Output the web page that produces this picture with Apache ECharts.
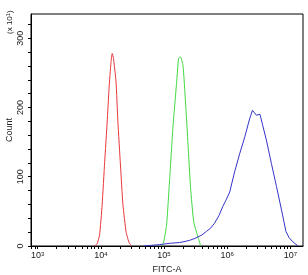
<!DOCTYPE html>
<html>
<head>
<meta charset="utf-8">
<style>
    html, body { margin: 0; padding: 0; background: #fff; }
    #chart { width: 308px; height: 275px; }
</style>
<script src="https://cdn.jsdelivr.net/npm/echarts@6/dist/echarts.min.js"></script>
</head>
<body>
<div id="chart"></div>
<script type="text/javascript">
    // x values are log10(FITC-A), counts are in units of x10^1
    var redX   = [3.90, 3.94, 3.98, 4.02, 4.06, 4.10, 4.13, 4.16, 4.18, 4.20, 4.24, 4.27, 4.31, 4.35, 4.40, 4.45, 4.49];
    var redY   = [0,    3,    16,   59,   121,  179,  228,  265,  278,  271,  237,  179,  117,  59,   20,   4,    0];
    var greenX = [4.96, 4.99, 5.04, 5.09, 5.14, 5.20, 5.23, 5.26, 5.30, 5.34, 5.38, 5.42, 5.47, 5.54, 5.58];
    var greenY = [0,    4,    30,   98,   170,  237,  271,  273,  261,  208,  146,  84,   35,   12,   0];
    var blueX  = [4.68, 4.80, 4.93, 5.10, 5.25, 5.40, 5.49, 5.60, 5.67, 5.74, 5.80, 5.87, 5.93, 5.98, 6.04, 6.12, 6.20, 6.28, 6.35, 6.40, 6.42, 6.46, 6.49, 6.52, 6.56, 6.62, 6.70, 6.78, 6.86, 6.93, 6.98, 7.04, 7.12];
    var blueY  = [0,    1,    2,    4,    5,    8,    11,   16,   21,   26,   33,   44,   57,   66,   78,   108,  134,  158,  182,  196,  197,  189,  191,  190,  175,  153,  119,  86,   52,   21,   12,   6,    0];

    var decades = [3, 4, 5, 6, 7];
    var yLabels = [0, 100, 200, 300];

    var xTicks = [];
    for (var d = 2; d <= 7; d++) {
        for (var k = 1; k <= 9; k++) {
            var v = d + Math.log10(k);
            if (v >= 2.894 && v <= 7.2) xTicks.push(v);
        }
    }
    var yTicks = [];
    for (var t = 0; t <= 320; t += 20) yTicks.push(t);

    function pairs(xs, ys) {
        return xs.map(function (x, i) { return [x, ys[i]]; });
    }

    var myChart = echarts.init(document.getElementById('chart'), null, {renderer: 'canvas'});
    var option = {
        animation: false,
        grid: {
            left: 31, right: 5, top: 14, bottom: 29,
            outerBoundsMode: 'none',
            containLabel: false,
            show: true, borderColor: '#000', borderWidth: 1
        },
        xAxis: {
            type: 'value',
            min: 2.894,
            max: 7.2,
            name: 'FITC-A',
            nameLocation: 'middle',
            nameGap: 19,
            nameMoveOverlap: false,
            nameTextStyle: {fontFamily: 'Liberation Sans', fontSize: 9, color: '#222'},
            axisLine: {lineStyle: {color: '#000', width: 1}},
            axisTick: {show: true, length: 3, customValues: xTicks, lineStyle: {color: '#000'}},
            splitLine: {show: false},
            axisLabel: {
                customValues: decades,
                margin: 5,
                formatter: function (v) { return '{b|10}{s|' + Math.round(v) + '}'; },
                rich: {
                    b: {fontFamily: 'Liberation Sans', fontSize: 9, color: '#222'},
                    s: {fontFamily: 'Liberation Sans', fontSize: 6, color: '#222', verticalAlign: 'top', padding: [0, 0, 4, 0]}
                }
            }
        },
        yAxis: {
            type: 'value',
            min: 0,
            max: 335,
            name: 'Count',
            nameLocation: 'middle',
            nameGap: 17,
            nameMoveOverlap: false,
            nameRotate: 90,
            nameTextStyle: {fontFamily: 'Liberation Sans', fontSize: 9, color: '#222'},
            axisLine: {show: true, lineStyle: {color: '#000', width: 1}},
            axisTick: {show: true, length: 3, customValues: yTicks, lineStyle: {color: '#000'}},
            splitLine: {show: false},
            axisLabel: {
                customValues: yLabels,
                rotate: 90,
                margin: 6,
                fontFamily: 'Liberation Sans',
                fontSize: 9,
                color: '#222'
            }
        },
        graphic: [{
            type: 'text',
            x: 5,
            y: 34,
            rotation: Math.PI / 2,
            style: {
                text: '(x 10{s|1})',
                fontFamily: 'Liberation Sans',
                fontSize: 8,
                fill: '#222',
                rich: {s: {fontSize: 6, fill: '#222', verticalAlign: 'top', padding: [0, 0, 3, 0]}}
            }
        }],
        series: [
            {
                name: 'red', type: 'line', showSymbol: false, smooth: 0.15,
                lineStyle: {color: '#e8383a', width: 1},
                data: pairs(redX, redY)
            },
            {
                name: 'green', type: 'line', showSymbol: false, smooth: 0.15,
                lineStyle: {color: '#3fd83f', width: 1},
                data: pairs(greenX, greenY)
            },
            {
                name: 'blue', type: 'line', showSymbol: false, smooth: false,
                lineStyle: {color: '#3434c8', width: 1},
                data: pairs(blueX, blueY)
            }
        ]
    };
    myChart.setOption(option);
</script>
</body>
</html>
